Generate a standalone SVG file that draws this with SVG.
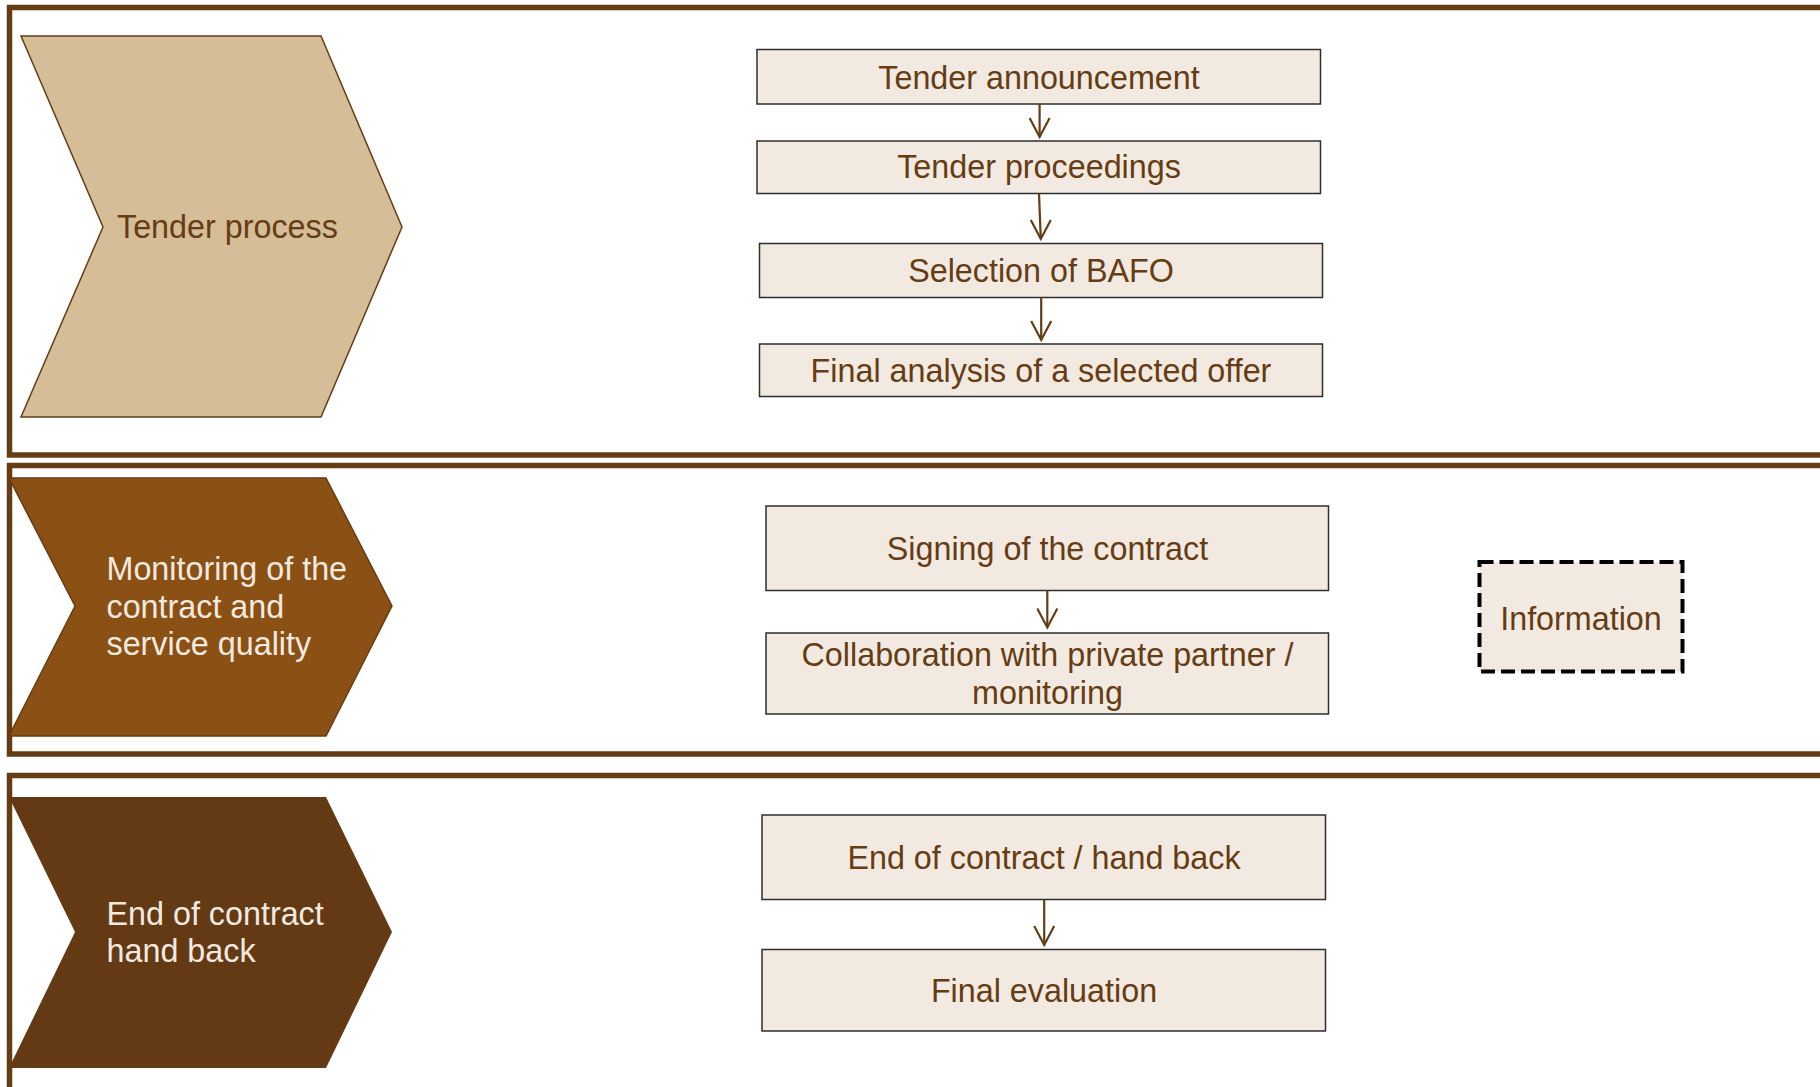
<svg xmlns="http://www.w3.org/2000/svg" width="1820" height="1087" viewBox="0 0 1820 1087">
  <defs>
    <style>
      .panel { fill: none; stroke: #663C14; stroke-width: 5.5; }
      .step { fill: #F2EAE0; stroke: #2E2E2E; stroke-width: 1.5; }
      .label { font-family: "Liberation Sans", Arial, sans-serif; font-size: 32.3px; fill: #663C14; }
      .center { text-anchor: middle; }
      .light { fill: #F2EAE0; }
      .flow { fill: none; stroke: #663C14; stroke-width: 2.2; }
      .head { fill: none; stroke: #663C14; stroke-width: 2.2; stroke-linejoin: miter; }
    </style>
  </defs>
  <rect width="1820" height="1087" fill="#FFFFFF"/>

  <!-- phase frames -->
  <g id="frames">
    <rect class="panel" x="9.5" y="7.5" width="1830" height="447.5"/>
    <rect class="panel" x="9.5" y="465.5" width="1830" height="288.5"/>
    <rect class="panel" x="9.5" y="775.5" width="1830" height="330"/>
  </g>

  <!-- phase chevrons -->
  <g id="phase-tender">
    <polygon points="21,36 321,36 402,227 321,417 21,417 103,227" fill="#D4BD97" stroke="#663C14" stroke-width="1.5"/>
    <text class="label" x="117" y="238">Tender process</text>
  </g>
  <g id="phase-monitoring">
    <polygon points="9,478 326,478 392,606 326,736 9,736 75,606" fill="#8B5014" stroke="#663C14" stroke-width="1.5"/>
    <text class="label light" x="106.5" y="580">Monitoring of the</text>
    <text class="label light" x="106.5" y="618">contract and</text>
    <text class="label light" x="106.5" y="655">service quality</text>
  </g>
  <g id="phase-end">
    <polygon points="9,797 326,797 392,932 326,1068 9,1068 75,932" fill="#633A14"/>
    <text class="label light" x="106.5" y="925">End of contract</text>
    <text class="label light" x="106.5" y="962">hand back</text>
  </g>

  <!-- process steps -->
  <g id="step-announcement">
    <rect class="step" x="757" y="49.5" width="563.5" height="54.5"/>
    <text class="label center" x="1039" y="89">Tender announcement</text>
  </g>
  <g id="step-proceedings">
    <rect class="step" x="757" y="141" width="563.5" height="52.5"/>
    <text class="label center" x="1039" y="178">Tender proceedings</text>
  </g>
  <g id="step-bafo">
    <rect class="step" x="759.5" y="243.5" width="563" height="54"/>
    <text class="label center" x="1041" y="282">Selection of BAFO</text>
  </g>
  <g id="step-analysis">
    <rect class="step" x="759.5" y="344" width="563" height="52.5"/>
    <text class="label center" x="1041" y="382">Final analysis of a selected offer</text>
  </g>
  <g id="step-signing">
    <rect class="step" x="766" y="506" width="562.5" height="84.5"/>
    <text class="label center" x="1047.5" y="560">Signing of the contract</text>
  </g>
  <g id="step-collaboration">
    <rect class="step" x="766" y="633" width="562.5" height="81"/>
    <text class="label center" x="1047.5" y="665.5">Collaboration with private partner /</text>
    <text class="label center" x="1047.5" y="704">monitoring</text>
  </g>
  <g id="step-handback">
    <rect class="step" x="762" y="815" width="563.5" height="84.5"/>
    <text class="label center" x="1044" y="869">End of contract / hand back</text>
  </g>
  <g id="step-evaluation">
    <rect class="step" x="762" y="949.5" width="563.5" height="81.5"/>
    <text class="label center" x="1044" y="1002">Final evaluation</text>
  </g>
  <g id="info">
    <rect x="1479.5" y="562" width="203" height="109.5" fill="#F2EAE0" stroke="#000000" stroke-width="4" stroke-dasharray="14 6"/>
    <text class="label center" x="1581" y="629.5">Information</text>
  </g>

  <!-- connectors -->
  <g id="connectors">
    <line class="flow" x1="1039.6" y1="104" x2="1039.6" y2="137"/>
    <polyline class="head" points="1029.6,118 1039.6,137 1049.6,118"/>
    <line class="flow" x1="1039" y1="193.5" x2="1040.8" y2="239"/>
    <polyline class="head" points="1030.8,220 1040.8,239 1050.8,220"/>
    <line class="flow" x1="1041.2" y1="297.5" x2="1041.2" y2="340"/>
    <polyline class="head" points="1031.2,321 1041.2,340 1051.2,321"/>
    <line class="flow" x1="1047.3" y1="590.5" x2="1047.3" y2="627.5"/>
    <polyline class="head" points="1037.3,608.5 1047.3,627.5 1057.3,608.5"/>
    <line class="flow" x1="1044.2" y1="899.5" x2="1044.2" y2="945"/>
    <polyline class="head" points="1034.2,926 1044.2,945 1054.2,926"/>
  </g>
</svg>
